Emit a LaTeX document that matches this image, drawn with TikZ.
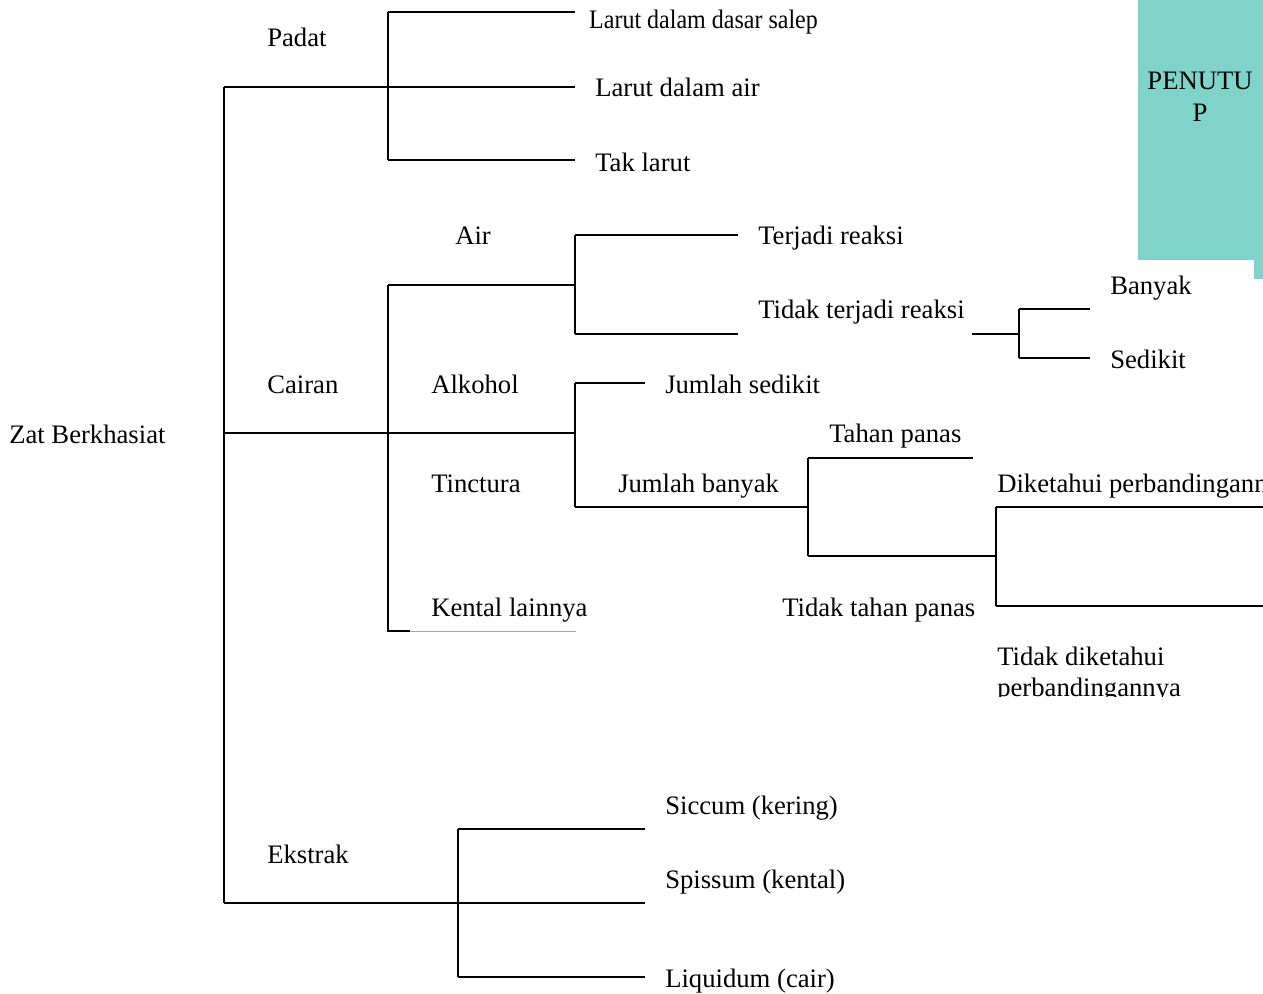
\documentclass[tikz,border=0pt]{standalone}
\usepackage{fontspec}
\setmainfont{Liberation Serif}
\definecolor{tealbox}{RGB}{127,211,202}
\begin{document}
\begin{tikzpicture}[x=0.75pt,y=-0.75pt,
  tree/.style={draw=black,line width=1.4pt},
  lbl/.style={anchor=base west,inner sep=0pt,font=\fontsize{20}{23.5}\selectfont}]
\useasboundingbox (0,0) rectangle (1263,993);
% PENUTUP box
\fill[tealbox] (1138,0) rectangle (1263,260);
\fill[tealbox] (1254,259) rectangle (1263,279);
\node[inner sep=0pt,align=center,font=\fontsize{20}{23.5}\selectfont,anchor=north] (penutup) at (1200,72) {PENUTU\\P};
% labels
\node[lbl] (zat) at (9,443) {Zat Berkhasiat};
\node[lbl] (padat) at (267,46) {Padat};
\node[lbl,xscale=0.9] (salep) at (589,28) {Larut dalam dasar salep};
\node[lbl] (air1) at (595,96) {Larut dalam air};
\node[lbl] (tak) at (595,171) {Tak larut};
\node[lbl] (air) at (455,244) {Air};
\node[lbl] (terjadi) at (758,244) {Terjadi reaksi};
\node[lbl] (tidakter) at (758,318) {Tidak terjadi reaksi};
\node[lbl] (banyak) at (1110,294) {Banyak};
\node[lbl] (sedikit) at (1110,368) {Sedikit};
\node[lbl] (cairan) at (267,393) {Cairan};
\node[lbl] (alkohol) at (431,393) {Alkohol};
\node[lbl] (jsedikit) at (665,393) {Jumlah sedikit};
\node[lbl] (tahan) at (829,442) {Tahan panas};
\node[lbl] (tinctura) at (431,492) {Tinctura};
\node[lbl] (jbanyak) at (618,492) {Jumlah banyak};
\node[lbl] (diket) at (997,492) {Diketahui perbandingannya};
\node[lbl] (kental) at (431,616) {Kental lainnya};
\node[lbl] (tidaktahan) at (782,616) {Tidak tahan panas};
\begin{scope}
\clip (990,630) rectangle (1263,696);
\node[lbl] (tidakdiket) at (997,665) {Tidak diketahui};
\node[lbl] (perb) at (997,696) {perbandingannya};
\end{scope}
\node[lbl] (ekstrak) at (267,863) {Ekstrak};
\node[lbl] (siccum) at (665,814) {Siccum (kering)};
\node[lbl] (spissum) at (665,888) {Spissum (kental)};
\node[lbl] (liquidum) at (665,987) {Liquidum (cair)};
% junction coordinates
\coordinate (r1) at (224,87);
\coordinate (r2) at (224,433);
\coordinate (r3) at (224,903);
\coordinate (p1) at (388,12);
\coordinate (p2) at (388,87);
\coordinate (p3) at (388,160);
\coordinate (c1) at (388,285);
\coordinate (c2) at (388,433);
\coordinate (c3) at (388,631);
\coordinate (a1) at (575,235);
\coordinate (a2) at (575,285);
\coordinate (a3) at (575,334);
\coordinate (k1) at (575,383);
\coordinate (k2) at (575,433);
\coordinate (k3) at (575,507);
\coordinate (t0) at (972,334);
\coordinate (t1) at (1019,309);
\coordinate (t2) at (1019,334);
\coordinate (t3) at (1019,358);
\coordinate (j1) at (808,458);
\coordinate (j2) at (808,507);
\coordinate (j3) at (808,556);
\coordinate (d1) at (996,507);
\coordinate (d2) at (996,556);
\coordinate (d3) at (996,606);
\coordinate (e1) at (458,829);
\coordinate (e2) at (458,903);
\coordinate (e3) at (458,977);
% tree lines
\draw[tree] (r1) -- (r3);
\draw[tree] (r1) -- (p2) -- (575,87);
\draw[tree] (p1) -- (p3);
\draw[tree] (p1) -- (575,12);
\draw[tree] (p3) -- (575,160);
\draw[tree] (r2) -- (c2) -- (k2);
\draw[tree] (c1) -- (c3) -- (410,631);
\draw[gray!70,line width=0.6pt] (410,631) -- (576,631);
\draw[tree] (c1) -- (a2);
\draw[tree] (a1) -- (a3);
\draw[tree] (a1) -- (738,235);
\draw[tree] (a3) -- (738,334);
\draw[tree] (k1) -- (k3);
\draw[tree] (k1) -- (645,383);
\draw[tree] (k3) -- (j2);
\draw[tree] (t0) -- (t2);
\draw[tree] (t1) -- (t3);
\draw[tree] (t1) -- (1090,309);
\draw[tree] (t3) -- (1090,358);
\draw[tree] (j1) -- (j3);
\draw[tree] (j1) -- (973,458);
\draw[tree] (j3) -- (d2);
\draw[tree] (d1) -- (d3);
\draw[tree] (d1) -- (1263,507);
\draw[tree] (d3) -- (1263,606);
\draw[tree] (r3) -- (e2) -- (645,903);
\draw[tree] (e1) -- (e3);
\draw[tree] (e1) -- (645,829);
\draw[tree] (e3) -- (645,977);
\end{tikzpicture}
\end{document}
